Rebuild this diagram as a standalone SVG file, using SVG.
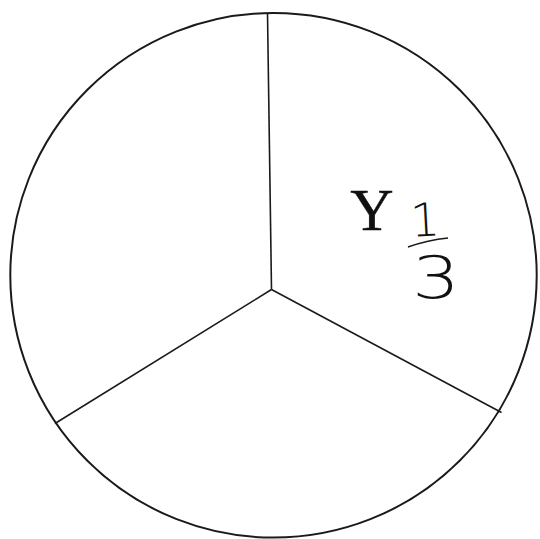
<svg xmlns="http://www.w3.org/2000/svg" width="540" height="539" viewBox="0 0 540 539">
<style>
.edge{stroke:#1a1a1a;stroke-width:1.6;fill:none}
.rim{stroke:#1a1a1a;stroke-width:2;fill:none}
.lbl{font-family:"Liberation Serif","Times New Roman",serif;fill:#111;stroke:#111;stroke-width:0.4}
.hand{font-family:"DejaVu Sans","Liberation Sans",sans-serif;font-weight:200;fill:#111}
</style>
<rect width="540" height="539" fill="#ffffff"/>
<g id="pie">
<ellipse class="rim" cx="273.5" cy="275.3" rx="263.2" ry="262.3"/>
</g>
<g id="connectors">
<line class="edge" x1="271.5" y1="289.5" x2="267.5" y2="13"/>
<line class="edge" x1="271.5" y1="289.5" x2="55" y2="423.5"/>
<line class="edge" x1="271.5" y1="289.5" x2="501.5" y2="412.5"/>
</g>
<g id="label-y">
<text class="lbl" x="372" y="230" font-size="60" text-anchor="middle">Y</text>
</g>
<g id="label-fraction">
<text class="hand" x="425" y="236" font-size="46" text-anchor="middle" transform="rotate(-3 425 220)">1</text>
<path class="edge" d="M408 247 Q428 240 448 238" stroke-width="2.4"/>
<text class="hand" x="436" y="298" font-size="58" text-anchor="middle" transform="translate(436 0) scale(1.3 1) translate(-436 0)">3</text>
</g>
</svg>
